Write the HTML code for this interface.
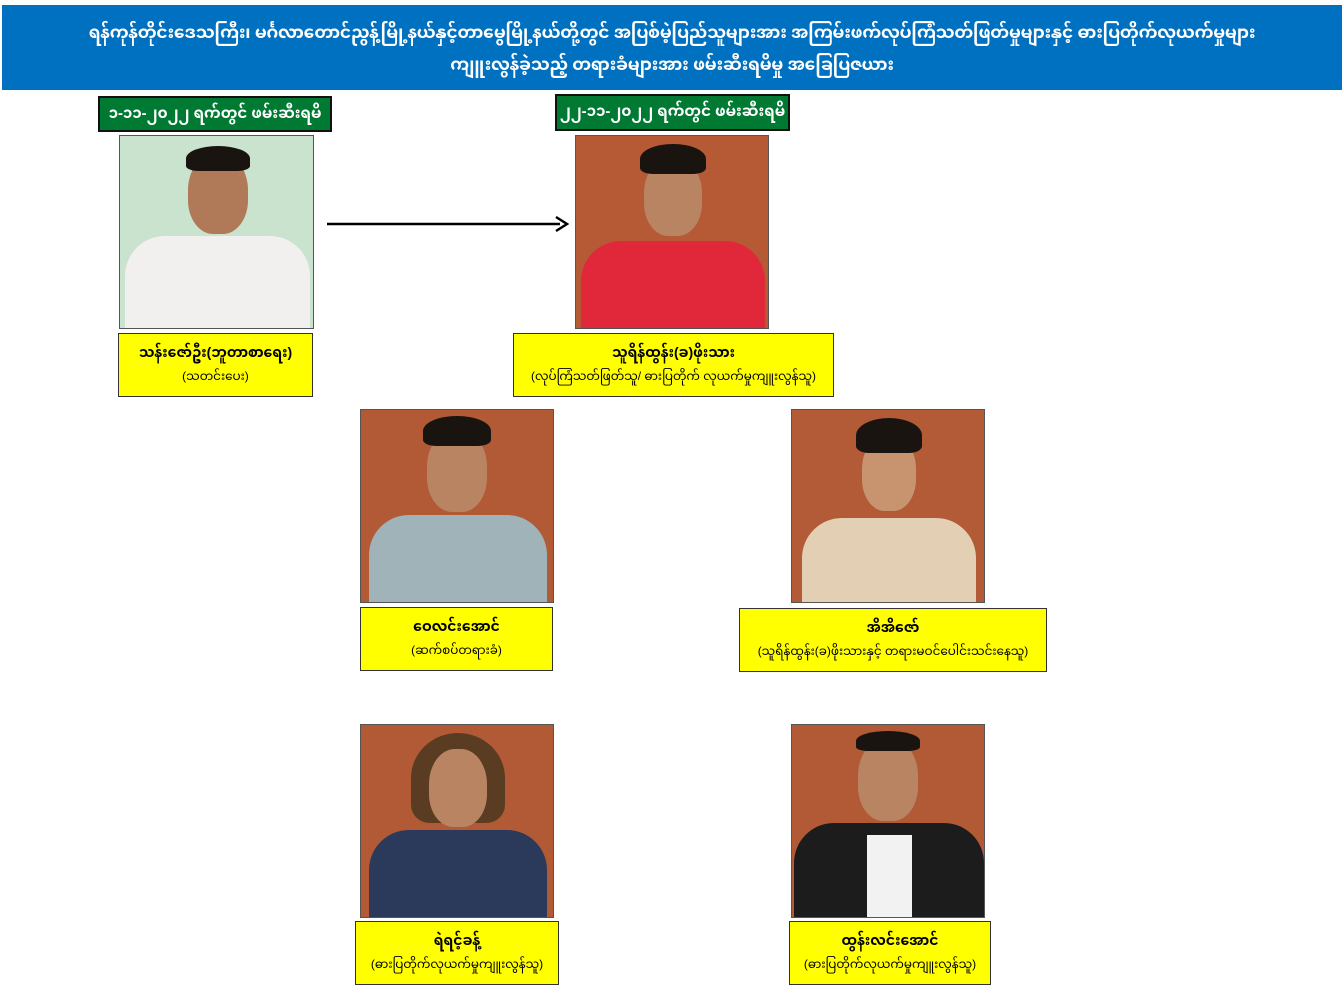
<!DOCTYPE html>
<html><head><meta charset="utf-8"><style>
body{margin:0;width:1344px;height:1008px;background:#fff;position:relative;overflow:hidden;font-family:"Liberation Sans","Noto Sans Myanmar","Padauk","Myanmar Text",sans-serif}
.abs{position:absolute;box-sizing:border-box}
.hdr{left:2px;top:5px;width:1340px;height:85px;background:#0070c0;color:#fff;text-align:center;font-size:17px;line-height:32px;padding-top:12px;font-weight:bold;letter-spacing:-0.2px}
.grn{background:#007a33;border:2px solid #111;color:#fff;text-align:center;font-size:15px;font-weight:bold;line-height:31px}
.yel{background:#ffff00;border:1px solid #333;text-align:center;color:#000}
.yel b{display:block;font-size:14px;margin-top:8px;line-height:20px}
.yel span{display:block;font-size:12px;line-height:20px;margin-top:4px}
.ph{overflow:hidden;border:1px solid #555}
.head{position:absolute;border-radius:45% 45% 42% 42%;background:#b98462}
.hair{position:absolute;background:#1a1410;border-radius:50% 50% 20% 20%}
.body{position:absolute;border-radius:40px 40px 0 0}
</style></head><body>
<div class="abs hdr">ရန်ကုန်တိုင်းဒေသကြီး၊ မင်္ဂလာတောင်ညွန့်မြို့နယ်နှင့်တာမွေမြို့နယ်တို့တွင် အပြစ်မဲ့ပြည်သူများအား အကြမ်းဖက်လုပ်ကြံသတ်ဖြတ်မှုများနှင့် ဓားပြတိုက်လုယက်မှုများ<br>ကျူးလွန်ခဲ့သည့် တရားခံများအား ဖမ်းဆီးရမိမှု အခြေပြဇယား</div>
<div class="abs grn" style="left:98px;top:96px;width:234px;height:36px">၁-၁၁-၂၀၂၂ ရက်တွင် ဖမ်းဆီးရမိ</div>
<div class="abs grn" style="left:555px;top:94px;width:235px;height:37px">၂၂-၁၁-၂၀၂၂ ရက်တွင် ဖမ်းဆီးရမိ</div>

<div class="abs ph" style="left:119px;top:135px;width:195px;height:194px;background:#c9e3cf">
<div class="body" style="left:5px;top:100px;width:185px;height:100px;background:#f2f0ee"></div>
<div class="head" style="left:68px;top:18px;width:60px;height:80px;background:#b07a58"></div>
<div class="hair" style="left:66px;top:10px;width:64px;height:25px"></div>
</div>
<svg class="abs" style="left:0;top:0" width="1344" height="1008"><line x1="327" y1="224" x2="560" y2="224" stroke="#000" stroke-width="2.5"/><path d="M556,217 L567,224 L556,231" fill="none" stroke="#000" stroke-width="2.5"/></svg>
<div class="abs ph" style="left:575px;top:135px;width:194px;height:194px;background:#b55a34">
<div class="body" style="left:5px;top:105px;width:184px;height:95px;background:#e0283a"></div>
<div class="head" style="left:68px;top:22px;width:58px;height:78px"></div>
<div class="hair" style="left:64px;top:8px;width:66px;height:30px"></div>
</div>
<div class="abs yel" style="left:118px;top:333px;width:195px;height:64px"><b>သန်းဇော်ဦး(ဘူတာစာရေး)</b><span>(သတင်းပေး)</span></div>
<div class="abs yel" style="left:513px;top:333px;width:321px;height:64px"><b>သူရိန်ထွန်း(ခ)ဖိုးသား</b><span>(လုပ်ကြံသတ်ဖြတ်သူ/ ဓားပြတိုက် လုယက်မှုကျူးလွန်သူ)</span></div>

<div class="abs ph" style="left:360px;top:409px;width:194px;height:194px;background:#b25a36">
<div class="body" style="left:8px;top:105px;width:178px;height:95px;background:#9fb3b8"></div>
<div class="head" style="left:66px;top:20px;width:60px;height:82px"></div>
<div class="hair" style="left:62px;top:6px;width:68px;height:30px"></div>
</div>
<div class="abs yel" style="left:360px;top:607px;width:193px;height:64px"><b>ဝေလင်းအောင်</b><span>(ဆက်စပ်တရားခံ)</span></div>
<div class="abs ph" style="left:791px;top:409px;width:194px;height:194px;background:#b35a36">
<div class="body" style="left:10px;top:108px;width:174px;height:90px;background:#e3cfb4"></div>
<div class="head" style="left:70px;top:25px;width:54px;height:76px;background:#c89470"></div>
<div class="hair" style="left:64px;top:8px;width:66px;height:35px"></div>
</div>
<div class="abs yel" style="left:739px;top:608px;width:308px;height:64px"><b>အိအိဇော်</b><span>(သူရိန်ထွန်း(ခ)ဖိုးသားနှင့် တရားမဝင်ပေါင်းသင်းနေသူ)</span></div>

<div class="abs ph" style="left:360px;top:724px;width:194px;height:194px;background:#b25a36">
<div class="body" style="left:8px;top:105px;width:178px;height:95px;background:#2b3a5a"></div>
<div class="hair" style="left:50px;top:8px;width:94px;height:90px;background:#5a3c22"></div>
<div class="head" style="left:68px;top:24px;width:58px;height:78px"></div>
</div>
<div class="abs yel" style="left:355px;top:921px;width:204px;height:64px"><b>ရဲရင့်ခန့်</b><span>(ဓားပြတိုက်လုယက်မှုကျူးလွန်သူ)</span></div>
<div class="abs ph" style="left:791px;top:724px;width:194px;height:194px;background:#b25a36">
<div class="body" style="left:2px;top:98px;width:190px;height:100px;background:#1c1c1c"></div>
<div class="abs" style="left:75px;top:110px;width:45px;height:90px;background:#f2f2f2"></div>
<div class="head" style="left:66px;top:14px;width:60px;height:82px"></div>
<div class="hair" style="left:64px;top:6px;width:64px;height:20px"></div>
</div>
<div class="abs yel" style="left:789px;top:921px;width:202px;height:64px"><b>ထွန်းလင်းအောင်</b><span>(ဓားပြတိုက်လုယက်မှုကျူးလွန်သူ)</span></div>
</body></html>
